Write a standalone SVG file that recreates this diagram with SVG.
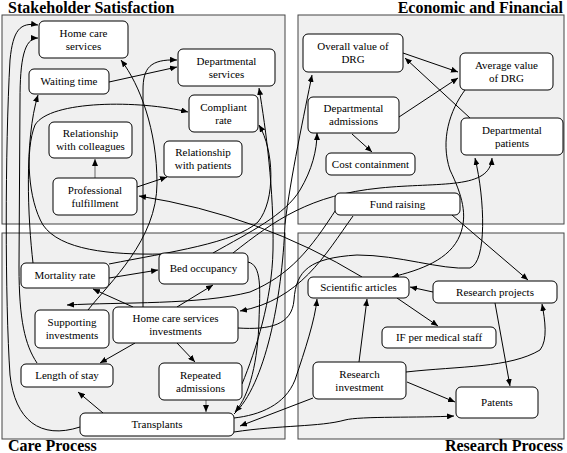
<svg xmlns="http://www.w3.org/2000/svg" width="567" height="453" viewBox="0 0 567 453">
<defs>
<marker id="ah" markerUnits="userSpaceOnUse" markerWidth="8" markerHeight="6" refX="7" refY="3" orient="auto">
<path d="M0,0 L7,3 L0,6 z" fill="#000"/>
</marker>
<style>
text{font-family:'Liberation Serif','Times New Roman',serif;font-size:11px;fill:#000}
.panel{fill:#f0f0f0;stroke:#444;stroke-width:1}
.box{fill:#fff;stroke:#000;stroke-width:1}
.t{text-anchor:middle}
.title{font-size:16px;font-weight:bold}
#edges path{fill:none;stroke:#000;stroke-width:1;marker-end:url(#ah)}
#edges path.g{stroke:#666}
</style>
</defs>
<rect width="567" height="453" fill="#fff"/>
<g id="panels">
<rect class="panel" x="2" y="15" width="283" height="209"/>
<rect class="panel" x="298" y="15" width="266" height="209"/>
<rect class="panel" x="2" y="233" width="283" height="206"/>
<rect class="panel" x="298" y="233" width="266" height="206"/>
</g>
<text class="title" x="8" y="13">Stakeholder Satisfaction</text>
<text class="title" x="563" y="13" text-anchor="end">Economic and Financial</text>
<text class="title" x="8" y="451">Care Process</text>
<text class="title" x="563" y="451" text-anchor="end">Research Process</text>

<g id="edges">
<path d="M109,82 L177,67"/>
<path class="g" d="M95,178 L95,159"/>
<path d="M137,187 L167,177"/>
<path d="M362,277 Q260,215 139,196"/>
<path d="M88,310 C110,282 157,240 157,183 C157,130 140,85 121,60"/>
<path d="M143,307 L143,90 C143,68 150,59 177,60"/>
<path d="M162,254 C110,255 60,250 43,225 C28,200 25,150 35,125 C50,100 140,100 188,112"/>
<path d="M109,264 C170,252 235,243 258,222 C276,200 274,150 259,125"/>
<path d="M109,278 L158,270"/>
<path d="M133,307 L93,289"/>
<path d="M177,307 L213,285"/>
<path d="M135,343 L100,363"/>
<path d="M177,343 L195,362"/>
<path class="g" d="M206,400 L206,412"/>
<path d="M103,413 L78,392"/>
<path d="M80,427 C40,440 15,420 10,375 C5,300 5,150 10,60 C13,30 20,22 38,25"/>
<path d="M37,363 C25,345 19,320 19,267 L20,100 C20,60 24,38 38,38"/>
<path d="M33,263 C28,220 24,140 38,95"/>
<path d="M213,253 C250,232 285,215 300,190 C312,170 317,150 317,133"/>
<path d="M233,253 C275,220 310,195 380,188 C440,182 490,190 492,158"/>
<path d="M248,262 C262,265 260,290 259,320 C258,360 250,395 235,412"/>
<path d="M242,384 C256,350 272,300 273,250 C274,190 266,130 259,88"/>
<path d="M234,414 C265,385 282,300 285,224 C290,180 305,110 312,75"/>
<path d="M337,208 C310,250 290,275 250,292 C200,305 120,302 67,305"/>
<path d="M353,216 C325,255 300,300 240,311"/>
<path d="M238,328 C270,330 292,325 294,300 C296,270 310,258 357,255 C400,255 440,270 470,268 C487,262 485,200 475,158"/>
<path d="M465,90 C450,110 440,140 450,170 C462,195 468,215 460,235 C450,260 420,270 392,277"/>
<path d="M470,118 L405,58"/>
<path d="M403,53 L458,72"/>
<path d="M399,117 L458,78"/>
<path d="M352,134 L372,152"/>
<path d="M452,215 L528,280"/>
<path d="M433,292 L410,287"/>
<path d="M397,298 L438,326"/>
<path d="M495,303 L510,386"/>
<path d="M359,362 L367,299"/>
<path d="M406,372 C460,366 510,368 540,350 C548,340 545,320 542,304"/>
<path d="M407,382 L455,402"/>
<path d="M234,418 C260,415 285,405 295,380 C305,350 315,320 317,299"/>
<path d="M313,398 L240,426"/>
<path d="M234,432 C280,425 320,427 345,420 C360,416 420,418 454,416"/>
</g>

<g id="hcs"><rect class="box" x="39" y="21" width="89" height="37" rx="5"/><text class="t" x="83.5" y="36.5">Home care</text><text class="t" x="83.5" y="49.5">services</text></g>
<g id="wt"><rect class="box" x="29" y="69" width="80" height="25" rx="5"/><text class="t" x="69" y="85">Waiting time</text></g>
<g id="ds"><rect class="box" x="178" y="49" width="97" height="37" rx="5"/><text class="t" x="226.5" y="64.5">Departmental</text><text class="t" x="226.5" y="77.5">services</text></g>
<g id="cr"><rect class="box" x="189" y="95" width="69" height="37" rx="5"/><text class="t" x="223.5" y="110.5">Compliant</text><text class="t" x="223.5" y="123.5">rate</text></g>
<g id="rwc"><rect class="box" x="49" y="122" width="83" height="36" rx="5"/><text class="t" x="90.5" y="137">Relationship</text><text class="t" x="90.5" y="150">with colleagues</text></g>
<g id="rwp"><rect class="box" x="164" y="141" width="78" height="36" rx="5"/><text class="t" x="203" y="156">Relationship</text><text class="t" x="203" y="169">with patients</text></g>
<g id="pf"><rect class="box" x="53" y="178" width="84" height="37" rx="5"/><text class="t" x="95" y="193.5">Professional</text><text class="t" x="95" y="206.5">fulfillment</text></g>
<g id="ovd"><rect class="box" x="303" y="34" width="100" height="38" rx="5"/><text class="t" x="353" y="49.5">Overall value of</text><text class="t" x="353" y="62.5">DRG</text></g>
<g id="avd"><rect class="box" x="460" y="53" width="93" height="37" rx="5"/><text class="t" x="506.5" y="68.5">Average value</text><text class="t" x="506.5" y="81.5">of DRG</text></g>
<g id="da"><rect class="box" x="308" y="97" width="91" height="36" rx="5"/><text class="t" x="353.5" y="112">Departmental</text><text class="t" x="353.5" y="125">admissions</text></g>
<g id="dp"><rect class="box" x="461" y="118" width="102" height="37" rx="5"/><text class="t" x="512" y="133.5">Departmental</text><text class="t" x="512" y="146.5">patients</text></g>
<g id="cc"><rect class="box" x="326" y="153" width="89" height="22" rx="5"/><text class="t" x="370.5" y="168">Cost containment</text></g>
<g id="fr"><rect class="box" x="335" y="193" width="125" height="22" rx="5"/><text class="t" x="397.5" y="208">Fund raising</text></g>
<g id="mr"><rect class="box" x="21" y="263" width="88" height="25" rx="5"/><text class="t" x="65" y="279">Mortality rate</text></g>
<g id="bo"><rect class="box" x="159" y="253" width="89" height="31" rx="5"/><text class="t" x="203.5" y="272">Bed occupancy</text></g>
<g id="si"><rect class="box" x="35" y="310" width="74" height="38" rx="5"/><text class="t" x="72" y="325.5">Supporting</text><text class="t" x="72" y="338.5">investments</text></g>
<g id="hcsi"><rect class="box" x="113" y="307" width="125" height="36" rx="5"/><text class="t" x="175.5" y="322">Home care services</text><text class="t" x="175.5" y="335">investments</text></g>
<g id="los"><rect class="box" x="21" y="364" width="92" height="23" rx="5"/><text class="t" x="67" y="379">Length of stay</text></g>
<g id="ra"><rect class="box" x="159" y="363" width="83" height="37" rx="5"/><text class="t" x="200.5" y="378.5">Repeated</text><text class="t" x="200.5" y="391.5">admissions</text></g>
<g id="tr"><rect class="box" x="80" y="413" width="154" height="23" rx="5"/><text class="t" x="157" y="428">Transplants</text></g>
<g id="sa"><rect class="box" x="308" y="277" width="101" height="21" rx="5"/><text class="t" x="358.5" y="291">Scientific articles</text></g>
<g id="rp"><rect class="box" x="433" y="281" width="124" height="22" rx="5"/><text class="t" x="495" y="296">Research projects</text></g>
<g id="if"><rect class="box" x="382" y="327" width="114" height="21" rx="5"/><text class="t" x="439" y="341">IF per medical staff</text></g>
<g id="ri"><rect class="box" x="313" y="362" width="93" height="37" rx="5"/><text class="t" x="359.5" y="377.5">Research</text><text class="t" x="359.5" y="390.5">investment</text></g>
<g id="pa"><rect class="box" x="456" y="387" width="82" height="31" rx="5"/><text class="t" x="497" y="406">Patents</text></g>
</svg>
